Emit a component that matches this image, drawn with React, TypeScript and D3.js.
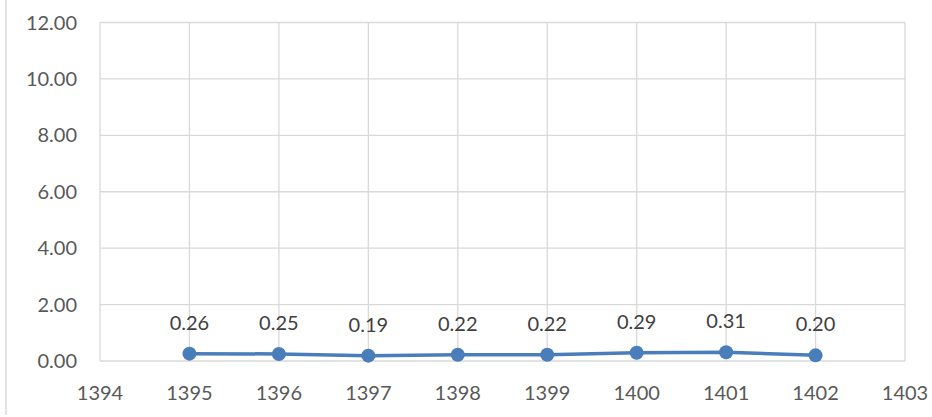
import React from "react";
import * as d3 from "d3";

const years = [1395, 1396, 1397, 1398, 1399, 1400, 1401, 1402];
const values = [0.26, 0.25, 0.19, 0.22, 0.22, 0.29, 0.31, 0.2];
const yTicks = [0, 2, 4, 6, 8, 10, 12];
const xTicks = [1394, 1395, 1396, 1397, 1398, 1399, 1400, 1401, 1402, 1403];

export default function App() {
  const W = 932, H = 417;
  const left = 100, right = 905, top = 22.5, bottom = 361;
  const x = d3.scaleLinear().domain([1394, 1403]).range([left, right]);
  const y = d3.scaleLinear().domain([0, 12]).range([bottom, top]);
  const line = d3.line<number>().x((_, i) => x(years[i])).y((d) => y(d));
  const font = "Lato, 'Open Sans', sans-serif";
  return (
    <svg width={W} height={H} style={{ position: "absolute", left: 0, top: 0, background: "#fff" }}>
      <line x1={6} x2={6} y1={0} y2={415} stroke="#d9d9d9" strokeWidth={1.5} />
      {yTicks.map((t) => (
        <line key={"gy" + t} x1={left} x2={right} y1={y(t)} y2={y(t)} stroke="#d9d9d9" strokeWidth={1.3} />
      ))}
      {xTicks.map((t) => (
        <line key={"gx" + t} x1={x(t)} x2={x(t)} y1={top} y2={bottom} stroke="#d9d9d9" strokeWidth={1.3} />
      ))}
      {yTicks.map((t) => (
        <text key={"ty" + t} x={77} y={y(t)} dy="0.35em" textAnchor="end" fontFamily={font} fontSize={20} fill="#595959">
          {t.toFixed(2)}
        </text>
      ))}
      {xTicks.map((t) => (
        <text key={"tx" + t} x={x(t)} y={393} dy="0.35em" textAnchor="middle" fontFamily={font} fontSize={20} fill="#595959">
          {t}
        </text>
      ))}
      <path d={line(values) || ""} fill="none" stroke="#4a7ebb" strokeWidth={3.5} strokeLinejoin="round" />
      {values.map((v, i) => (
        <circle key={"c" + i} cx={x(years[i])} cy={y(v)} r={7} fill="#4a7ebb" />
      ))}
      {values.map((v, i) => (
        <text key={"l" + i} x={x(years[i])} y={y(v) - 31} dy="0.35em" textAnchor="middle" fontFamily={font} fontSize={20} fill="#404040">
          {v.toFixed(2)}
        </text>
      ))}
    </svg>
  );
}
